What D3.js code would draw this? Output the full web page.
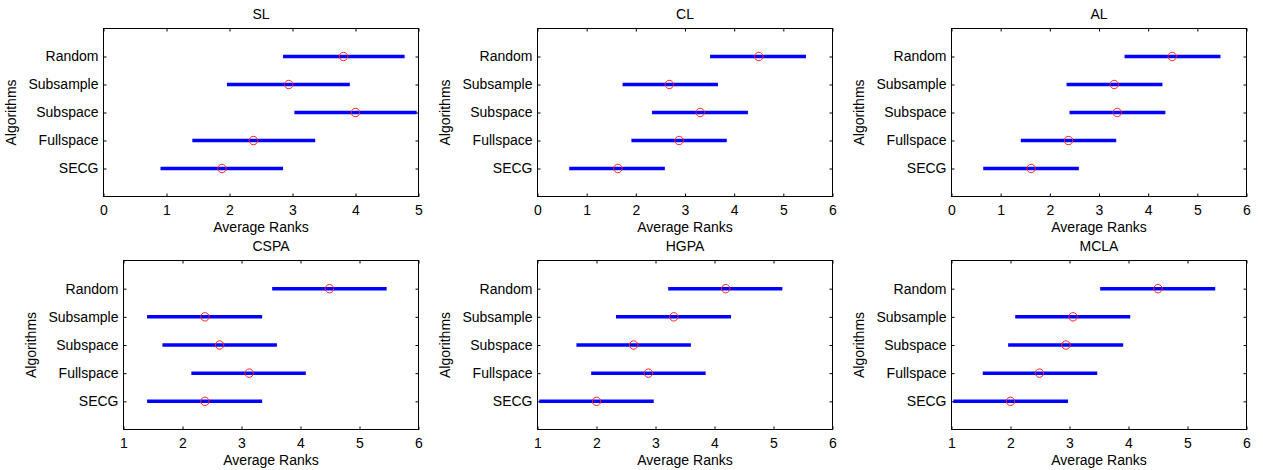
<!DOCTYPE html>
<html>
<head>
<meta charset="utf-8">
<script src="https://cdn.jsdelivr.net/npm/d3@7"></script>
<style>
  html, body { margin: 0; padding: 0; background: #fff; }
  svg { display: block; }
  text { font-family: "Liberation Sans", Arial, Helvetica, sans-serif; font-size: 14px; fill: #000; }
</style>
</head>
<body>
<svg id="chart" width="1263" height="470"></svg>
<script>
// ---------- data ----------
const panelTitles = ["SL", "CL", "AL", "CSPA", "HGPA", "MCLA"];
const algorithms = ["SECG", "Fullspace", "Subspace", "Subsample", "Random"]; // bottom -> top
const xTicksTop = [0, 1, 2, 3, 4, 5];
const xTicksTop6 = [0, 1, 2, 3, 4, 5, 6];
const xTicksBottom = [1, 2, 3, 4, 5, 6];

// mean ranks (order as algorithms)
const slMean   = [1.88, 2.38, 4.00, 2.94, 3.81];
const clMean   = [1.635, 2.88, 3.31, 2.68, 4.50];
const alMean   = [1.62, 2.38, 3.37, 3.31, 4.49];
const cspaMean = [2.38, 3.13, 2.63, 2.38, 4.49];
const hgpaMean = [2.00, 2.88, 2.63, 3.31, 4.19];
const mclaMean = [2.00, 2.49, 2.94, 3.06, 4.50];

// interval lower ends
const slLow   = [0.905, 1.41, 3.03, 1.96, 2.85];
const clLow   = [0.645, 1.91, 2.33, 1.73, 3.51];
const alLow   = [0.645, 1.41, 2.40, 2.34, 3.52];
const cspaLow = [1.40, 2.15, 1.66, 1.40, 3.52];
const hgpaLow = [1.03, 1.91, 1.66, 2.33, 3.215];
const mclaLow = [1.03, 1.53, 1.96, 2.08, 3.52];

// interval upper ends
const slHigh   = [2.85, 3.36, 4.97, 3.91, 4.78];
const clHigh   = [2.59, 3.85, 4.28, 3.67, 5.46];
const alHigh   = [2.59, 3.35, 4.35, 4.29, 5.47];
const cspaHigh = [3.35, 4.09, 3.60, 3.35, 5.46];
const hgpaHigh = [2.97, 3.85, 3.60, 4.28, 5.15];
const mclaHigh = [2.975, 3.47, 3.91, 4.03, 5.47];

const xDomains = [[0, 5], [0, 6], [0, 6], [1, 6], [1, 6], [1, 6]];
const xTickSets = [xTicksTop, xTicksTop6, xTicksTop6, xTicksBottom, xTicksBottom, xTicksBottom];
const means = [slMean, clMean, alMean, cspaMean, hgpaMean, mclaMean];
const lows = [slLow, clLow, alLow, cspaLow, hgpaLow, mclaLow];
const highs = [slHigh, clHigh, alHigh, cspaHigh, hgpaHigh, mclaHigh];

// ---------- layout ----------
const boxes = [
  {x0: 103.5, x1: 418.5, y0: 28.5, y1: 196.5},
  {x0: 537.5, x1: 832.5, y0: 28.5, y1: 196.5},
  {x0: 951.5, x1: 1246.5, y0: 28.5, y1: 196.5},
  {x0: 123.5, x1: 418.5, y0: 260.5, y1: 429.5},
  {x0: 537.5, x1: 832.5, y0: 260.5, y1: 429.5},
  {x0: 951.5, x1: 1246.5, y0: 260.5, y1: 429.5}
];
const tickLen = 3;

const svg = d3.select("#chart");

panelTitles.forEach((title, i) => {
  const b = boxes[i];
  const x = d3.scaleLinear().domain(xDomains[i]).range([b.x0, b.x1]);
  const y = d3.scaleLinear().domain([0, 6]).range([b.y1, b.y0]);
  const g = svg.append("g");

  const clipId = "clip" + i;
  g.append("clipPath").attr("id", clipId)
    .append("rect").attr("x", b.x0).attr("y", b.y0)
    .attr("width", b.x1 - b.x0).attr("height", b.y1 - b.y0);

  // bottom axis (ticks inward)
  const xAxis = d3.axisBottom(x).tickValues(xTickSets[i]).tickFormat(d3.format("d"))
    .tickSizeInner(-tickLen).tickSizeOuter(0).tickPadding(8);
  const gx = g.append("g").attr("transform", `translate(0,${b.y1})`).call(xAxis);
  gx.select(".domain").remove();
  gx.selectAll("line").attr("stroke", "#000");
  gx.selectAll("text").attr("font-size", 14).attr("dy", "0.71em")
    .attr("y", 9).style("font-family", '"Liberation Sans", Arial, sans-serif');

  // top ticks
  const xAxisTop = d3.axisTop(x).tickValues(xTickSets[i]).tickFormat("")
    .tickSizeInner(-tickLen).tickSizeOuter(0);
  const gxt = g.append("g").attr("transform", `translate(0,${b.y0})`).call(xAxisTop);
  gxt.select(".domain").remove();
  gxt.selectAll("line").attr("stroke", "#000");

  // left axis
  const yAxis = d3.axisLeft(y).tickValues([1, 2, 3, 4, 5])
    .tickFormat(d => algorithms[d - 1]).tickSizeInner(-tickLen).tickSizeOuter(0).tickPadding(5);
  const gy = g.append("g").attr("transform", `translate(${b.x0},0)`).call(yAxis);
  gy.select(".domain").remove();
  gy.selectAll("line").attr("stroke", "#000");
  gy.selectAll("text").attr("font-size", 14).attr("x", -5)
    .style("font-family", '"Liberation Sans", Arial, sans-serif');

  // right ticks
  const yAxisR = d3.axisRight(y).tickValues([1, 2, 3, 4, 5]).tickFormat("")
    .tickSizeInner(-tickLen).tickSizeOuter(0);
  const gyr = g.append("g").attr("transform", `translate(${b.x1},0)`).call(yAxisR);
  gyr.select(".domain").remove();
  gyr.selectAll("line").attr("stroke", "#000");

  // box
  g.append("rect").attr("x", b.x0).attr("y", b.y0)
    .attr("width", b.x1 - b.x0).attr("height", b.y1 - b.y0)
    .attr("fill", "none").attr("stroke", "#000").attr("stroke-width", 1);

  const idx = algorithms.map((a, k) => k);
  const marks = g.append("g").attr("clip-path", `url(#${clipId})`);
  marks.selectAll("line.bar").data(idx).join("line")
    .attr("class", "bar")
    .attr("x1", k => x(lows[i][k])).attr("x2", k => x(highs[i][k]))
    .attr("y1", k => y(k + 1)).attr("y2", k => y(k + 1))
    .attr("stroke", "#0000ff").attr("stroke-width", 3.5);
  marks.selectAll("circle").data(idx).join("circle")
    .attr("cx", k => x(means[i][k])).attr("cy", k => y(k + 1)).attr("r", 4.2)
    .attr("fill", "none").attr("stroke", "#ff2020").attr("stroke-width", 1);

  // title
  g.append("text").attr("x", (b.x0 + b.x1) / 2).attr("y", b.y0 - 9.5)
    .attr("text-anchor", "middle").text(title);
  // x label
  g.append("text").attr("x", (b.x0 + b.x1) / 2).attr("y", b.y1 + 35)
    .attr("text-anchor", "middle").text("Average Ranks");
  // y label
  const yl = b.x0 - 88, yc = (b.y0 + b.y1) / 2;
  g.append("text").attr("transform", `translate(${yl},${yc}) rotate(-90)`)
    .attr("text-anchor", "middle").text("Algorithms");
});
</script>
</body>
</html>
